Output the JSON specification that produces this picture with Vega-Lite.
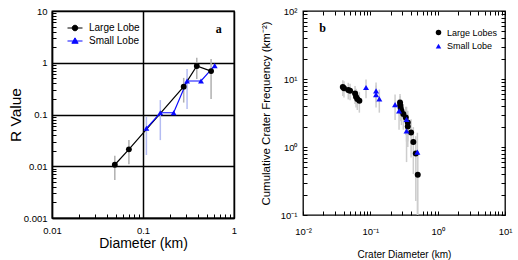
{
  "$schema": "https://vega.github.io/schema/vega-lite/v6.json",
  "padding": {"left": 7, "top": 5, "right": 5, "bottom": 5},
  "spacing": 21,
  "datasets": {
    "left": [
      {"series": "Large Lobe", "d": 0.049, "r": 0.0107, "lo": 0.0054, "hi": 0.016},
      {"series": "Large Lobe", "d": 0.07, "r": 0.0212, "lo": 0.0109, "hi": 0.032},
      {"series": "Large Lobe", "d": 0.28, "r": 0.345, "lo": 0.17, "hi": 0.51},
      {"series": "Large Lobe", "d": 0.39, "r": 0.865, "lo": 0.485, "hi": 1.25},
      {"series": "Large Lobe", "d": 0.56, "r": 0.69, "lo": 0.2, "hi": 1.18},
      {"series": "Small Lobe", "d": 0.109, "r": 0.054, "lo": 0.0165, "hi": 0.0906},
      {"series": "Small Lobe", "d": 0.155, "r": 0.108, "lo": 0.032, "hi": 0.19},
      {"series": "Small Lobe", "d": 0.217, "r": 0.108, "lo": 0.108, "hi": 0.108},
      {"series": "Small Lobe", "d": 0.305, "r": 0.444, "lo": 0.128, "hi": 0.76},
      {"series": "Small Lobe", "d": 0.434, "r": 0.444, "lo": 0.444, "hi": 0.444},
      {"series": "Small Lobe", "d": 0.614, "r": 0.88, "lo": 0.88, "hi": 0.88}
    ],
    "right": [
      {"series": "Large Lobes", "d": 0.039, "f": 7.6, "lo": 5.6, "hi": 9.6},
      {"series": "Large Lobes", "d": 0.0406, "f": 7.3, "lo": 5.35, "hi": 9.25},
      {"series": "Large Lobes", "d": 0.047, "f": 6.9, "lo": 5.0, "hi": 8.8},
      {"series": "Large Lobes", "d": 0.05, "f": 6.7, "lo": 4.85, "hi": 8.55},
      {"series": "Large Lobes", "d": 0.0593, "f": 6.1, "lo": 4.3, "hi": 7.9},
      {"series": "Large Lobes", "d": 0.0613, "f": 5.5, "lo": 3.8, "hi": 7.2},
      {"series": "Large Lobes", "d": 0.064, "f": 5.1, "lo": 3.5, "hi": 6.7},
      {"series": "Large Lobes", "d": 0.0687, "f": 4.8, "lo": 3.2, "hi": 6.4},
      {"series": "Large Lobes", "d": 0.276, "f": 4.5, "lo": 3.0, "hi": 6.0},
      {"series": "Large Lobes", "d": 0.278, "f": 4.1, "lo": 2.6, "hi": 5.6},
      {"series": "Large Lobes", "d": 0.282, "f": 3.75, "lo": 2.4, "hi": 5.1},
      {"series": "Large Lobes", "d": 0.29, "f": 3.4, "lo": 2.1, "hi": 4.7},
      {"series": "Large Lobes", "d": 0.309, "f": 3.05, "lo": 1.8, "hi": 4.3},
      {"series": "Large Lobes", "d": 0.336, "f": 2.72, "lo": 1.5, "hi": 3.9},
      {"series": "Large Lobes", "d": 0.36, "f": 2.3, "lo": 1.2, "hi": 3.4},
      {"series": "Large Lobes", "d": 0.36, "f": 2.0, "lo": 1.0, "hi": 3.0},
      {"series": "Large Lobes", "d": 0.403, "f": 1.63, "lo": 0.7, "hi": 2.55},
      {"series": "Large Lobes", "d": 0.435, "f": 1.18, "lo": 0.4, "hi": 1.96},
      {"series": "Large Lobes", "d": 0.473, "f": 0.8, "lo": 0.16, "hi": 1.44},
      {"series": "Large Lobes", "d": 0.506, "f": 0.39, "lo": 0.05, "hi": 0.84},
      {"series": "Small Lobe", "d": 0.0863, "f": 7.5, "lo": 5.2, "hi": 9.8},
      {"series": "Small Lobe", "d": 0.1216, "f": 6.7, "lo": 4.5, "hi": 8.9},
      {"series": "Small Lobe", "d": 0.1216, "f": 5.9, "lo": 3.8, "hi": 8.0},
      {"series": "Small Lobe", "d": 0.136, "f": 5.1, "lo": 3.2, "hi": 7.0},
      {"series": "Small Lobe", "d": 0.233, "f": 4.2, "lo": 2.5, "hi": 5.9},
      {"series": "Small Lobe", "d": 0.267, "f": 3.4, "lo": 1.8, "hi": 5.0},
      {"series": "Small Lobe", "d": 0.345, "f": 2.55, "lo": 1.2, "hi": 3.9},
      {"series": "Small Lobe", "d": 0.345, "f": 1.72, "lo": 0.6, "hi": 2.8},
      {"series": "Small Lobe", "d": 0.5, "f": 0.84, "lo": 0.06, "hi": 1.62}
    ]
  },
  "config": {
    "view": {"stroke": "black", "strokeWidth": 1.3},
    "font": "Liberation Sans",
    "axis": {
      "labelFont": "Liberation Sans",
      "titleFont": "Liberation Sans",
      "labelColor": "black",
      "titleColor": "black",
      "tickColor": "black",
      "domainColor": "black",
      "titleFontWeight": "normal",
      "labelFlush": false,
      "labelOverlap": false,
      "labelBound": false
    }
  },
  "resolve": {
    "scale": {"x": "independent", "y": "independent", "color": "independent", "shape": "independent", "stroke": "independent"},
    "legend": {"color": "independent", "shape": "independent", "stroke": "independent"}
  },
  "hconcat": [
    {
      "width": 182,
      "height": 207,
      "layer": [
        {
          "data": {"name": "left"},
          "mark": {"type": "rule", "strokeWidth": 1.5},
          "encoding": {
            "x": {
              "field": "d", "type": "quantitative",
              "scale": {"type": "log", "domain": [0.01, 1], "nice": false},
              "axis": {
                "values": [0.01, 0.02, 0.03, 0.04, 0.05, 0.06, 0.07, 0.08, 0.09, 0.1, 0.2, 0.3, 0.4, 0.5, 0.6, 0.7, 0.8, 0.9, 1],
                "labelExpr": "abs(log(datum.value)/LN10 - round(log(datum.value)/LN10)) < 1e-6 ? format(datum.value, '~g') : ''",
                "tickSize": -4,
                "labelPadding": 11,
                "labelFontSize": 9.5,
                "domain": true,
                "domainWidth": 1.3,
                "grid": true,
                "gridWidth": 1.5,
                "gridColor": {"condition": {"test": "abs(log(datum.value)/LN10 - round(log(datum.value)/LN10)) < 1e-6", "value": "black"}, "value": "transparent"},
                "title": "Diameter (km)",
                "titleFontSize": 14,
                "titlePadding": 2
              }
            },
            "y": {
              "field": "lo", "type": "quantitative",
              "scale": {"type": "log", "domain": [0.001, 10], "nice": false},
              "axis": {
                "values": [0.001, 0.002, 0.003, 0.004, 0.005, 0.006, 0.007, 0.008, 0.009, 0.01, 0.02, 0.03, 0.04, 0.05, 0.06, 0.07, 0.08, 0.09, 0.1, 0.2, 0.3, 0.4, 0.5, 0.6, 0.7, 0.8, 0.9, 1, 2, 3, 4, 5, 6, 7, 8, 9, 10],
                "labelExpr": "abs(log(datum.value)/LN10 - round(log(datum.value)/LN10)) < 1e-6 ? format(datum.value, '~g') : ''",
                "tickSize": -4,
                "labelPadding": 9,
                "labelFontSize": 9.5,
                "domain": true,
                "domainWidth": 1.3,
                "grid": true,
                "gridWidth": 1.5,
                "gridColor": {"condition": {"test": "abs(log(datum.value)/LN10 - round(log(datum.value)/LN10)) < 1e-6", "value": "black"}, "value": "transparent"},
                "title": "R Value",
                "titleFontSize": 15.5,
                "titlePadding": 0
              }
            },
            "y2": {"field": "hi"},
            "color": {"condition": {"test": "datum.series === 'Large Lobe'", "value": "#b0b0b0"}, "value": "#b4bcf2"}
          }
        },
        {
          "data": {"name": "left"},
          "mark": {"type": "line", "strokeWidth": 1.2},
          "encoding": {
            "x": {"field": "d", "type": "quantitative"},
            "y": {"field": "r", "type": "quantitative"},
            "color": {
              "field": "series", "type": "nominal",
              "scale": {"domain": ["Large Lobe", "Small Lobe"], "range": ["black", "#0a0aff"]}
            }
          }
        },
        {
          "data": {"name": "left"},
          "mark": {"type": "point", "filled": true, "opacity": 1, "size": 34},
          "encoding": {
            "x": {"field": "d", "type": "quantitative"},
            "y": {"field": "r", "type": "quantitative"},
            "color": {
              "field": "series", "type": "nominal",
              "scale": {"domain": ["Large Lobe", "Small Lobe"], "range": ["black", "#0a0aff"]}
            },
            "shape": {"condition": {"test": "datum.series === 'Large Lobe'", "value": "circle"}, "value": "triangle-up"}
          }
        },
        {
          "data": {"name": "left"},
          "mark": {"type": "point", "filled": true, "opacity": 1, "size": 0},
          "encoding": {
            "x": {"field": "d", "type": "quantitative"},
            "y": {"field": "r", "type": "quantitative"},
            "color": {
              "field": "series", "type": "nominal",
              "scale": {"domain": ["Large Lobe", "Small Lobe"], "range": ["black", "#0a0aff"]},
              "legend": {
                "title": null, "orient": "none", "legendX": 15, "legendY": 9, "padding": 0,
                "labelFont": "Liberation Sans", "labelFontSize": 10, "labelColor": "black",
                "symbolSize": 225, "symbolStrokeWidth": 1, "symbolOpacity": 1, "labelOffset": 6, "rowPadding": 0
              }
            },
            "stroke": {
              "field": "series", "type": "nominal",
              "scale": {"domain": ["Large Lobe", "Small Lobe"], "range": ["black", "#0a0aff"]},
              "legend": {
                "title": null, "orient": "none", "legendX": 15, "legendY": 9, "padding": 0,
                "labelFont": "Liberation Sans", "labelFontSize": 10, "labelColor": "black",
                "symbolSize": 225, "symbolStrokeWidth": 1, "symbolOpacity": 1, "labelOffset": 6, "rowPadding": 0
              }
            },
            "shape": {
              "field": "series", "type": "nominal",
              "scale": {
                "domain": ["Large Lobe", "Small Lobe"],
                "range": [
                  "M-1,0L1,0M-0.37,0A0.37,0.37,0,1,1,0.37,0A0.37,0.37,0,1,1,-0.37,0Z",
                  "M-1,0L1,0M0,-0.42L0.42,0.3L-0.42,0.3Z"
                ]
              },
              "legend": {
                "title": null, "orient": "none", "legendX": 15, "legendY": 9, "padding": 0,
                "labelFont": "Liberation Sans", "labelFontSize": 10, "labelColor": "black",
                "symbolSize": 225, "symbolStrokeWidth": 1, "symbolOpacity": 1, "labelOffset": 6, "rowPadding": 0
              }
            }
          }
        },
        {
          "data": {"values": [{"d": 0.68, "r": 4.4, "t": "a"}]},
          "mark": {"type": "text", "font": "Liberation Serif", "fontWeight": "bold", "fontSize": 12, "baseline": "middle", "align": "center", "color": "black"},
          "encoding": {
            "x": {"field": "d", "type": "quantitative"},
            "y": {"field": "r", "type": "quantitative"},
            "text": {"field": "t"}
          }
        }
      ]
    },
    {
      "width": 202,
      "height": 204,
      "resolve": {"axis": {"x": "independent", "y": "independent"}},
      "layer": [
        {
          "data": {"name": "right"},
          "mark": {"type": "rule", "strokeWidth": 1.5, "clip": true, "color": "#cdcdcd"},
          "encoding": {
            "x": {
              "field": "d", "type": "quantitative",
              "scale": {"type": "log", "domain": [0.01, 10], "nice": false},
              "axis": {
                "values": [0.01, 0.02, 0.03, 0.04, 0.05, 0.06, 0.07, 0.08, 0.09, 0.1, 0.2, 0.3, 0.4, 0.5, 0.6, 0.7, 0.8, 0.9, 1, 2, 3, 4, 5, 6, 7, 8, 9, 10],
                "labelExpr": "abs(log(datum.value)/LN10 - round(log(datum.value)/LN10)) < 1e-6 ? '10' + ['⁻²','⁻¹','⁰','¹','²'][round(log(datum.value)/LN10) + 2] : ''",
                "tickSize": -4,
                "labelPadding": 15,
                "labelFontSize": 9.5,
                "domain": false,
                "grid": false,
                "title": "Crater Diameter (km)",
                "titleFontSize": 10,
                "titlePadding": 14
              }
            },
            "y": {
              "field": "lo", "type": "quantitative",
              "scale": {"type": "log", "domain": [0.1, 100], "nice": false},
              "axis": {
                "values": [0.1, 0.2, 0.3, 0.4, 0.5, 0.6, 0.7, 0.8, 0.9, 1, 2, 3, 4, 5, 6, 7, 8, 9, 10, 20, 30, 40, 50, 60, 70, 80, 90, 100],
                "labelExpr": "abs(log(datum.value)/LN10 - round(log(datum.value)/LN10)) < 1e-6 ? '10' + ['⁻¹','⁰','¹','²'][round(log(datum.value)/LN10) + 1] : ''",
                "tickSize": -4,
                "labelPadding": 10,
                "labelFontSize": 9.5,
                "domain": false,
                "grid": false,
                "title": "Cumulative Crater Frequency (km⁻²)",
                "titleFontSize": 11.5,
                "titlePadding": 9
              }
            },
            "y2": {"field": "hi"}
          }
        },
        {
          "data": {"name": "right"},
          "mark": {"type": "point", "filled": true, "opacity": 1, "size": 36},
          "encoding": {
            "x": {
              "field": "d", "type": "quantitative",
              "axis": {
                "orient": "top",
                "values": [0.01, 0.02, 0.03, 0.04, 0.05, 0.06, 0.07, 0.08, 0.09, 0.1, 0.2, 0.3, 0.4, 0.5, 0.6, 0.7, 0.8, 0.9, 1, 2, 3, 4, 5, 6, 7, 8, 9, 10],
                "labels": false, "tickSize": -4, "domain": false, "grid": false, "title": null
              }
            },
            "y": {
              "field": "f", "type": "quantitative",
              "axis": {
                "orient": "right",
                "values": [0.1, 0.2, 0.3, 0.4, 0.5, 0.6, 0.7, 0.8, 0.9, 1, 2, 3, 4, 5, 6, 7, 8, 9, 10, 20, 30, 40, 50, 60, 70, 80, 90, 100],
                "labels": false, "tickSize": -4, "domain": false, "grid": false, "title": null
              }
            },
            "color": {
              "field": "series", "type": "nominal",
              "scale": {"domain": ["Large Lobes", "Small Lobe"], "range": ["black", "#0a0aff"]},
              "legend": {
                "title": null, "orient": "none", "legendX": 131, "legendY": 17, "padding": 0,
                "labelFont": "Liberation Sans", "labelFontSize": 9, "labelColor": "black",
                "symbolSize": 30, "labelOffset": 4, "rowPadding": 3.7
              }
            },
            "shape": {
              "field": "series", "type": "nominal",
              "scale": {"domain": ["Large Lobes", "Small Lobe"], "range": ["circle", "triangle-up"]},
              "legend": {
                "title": null, "orient": "none", "legendX": 131, "legendY": 17, "padding": 0,
                "labelFont": "Liberation Sans", "labelFontSize": 9, "labelColor": "black",
                "symbolSize": 30, "labelOffset": 4, "rowPadding": 3.7
              }
            }
          }
        },
        {
          "data": {"values": [{"d": 0.0196, "f": 57, "t": "b"}]},
          "mark": {"type": "text", "font": "Liberation Serif", "fontWeight": "bold", "fontSize": 12, "baseline": "middle", "align": "center", "color": "black"},
          "encoding": {
            "x": {"field": "d", "type": "quantitative", "axis": null},
            "y": {"field": "f", "type": "quantitative", "axis": null},
            "text": {"field": "t"}
          }
        }
      ]
    }
  ]
}
